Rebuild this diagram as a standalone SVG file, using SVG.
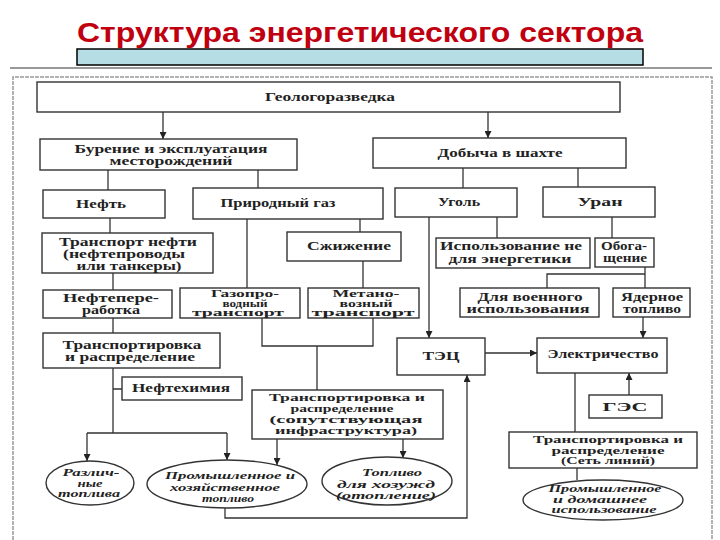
<svg xmlns="http://www.w3.org/2000/svg" width="720" height="540" viewBox="0 0 720 540">
<defs>
<style>
.b{fill:#fff;stroke:#333;stroke-width:1.4}
.e{fill:#fff;stroke:#333;stroke-width:1.4}
.t{font-family:"Liberation Serif","Times New Roman","DejaVu Serif",serif;font-size:11.5px;font-weight:bold;fill:#222;text-anchor:middle}
.s{font-size:9.5px}
.m{font-size:10px}
.i{font-family:"Liberation Serif","Times New Roman","DejaVu Serif",serif;font-size:11px;font-weight:bold;font-style:italic;fill:#222;text-anchor:middle}
.c{fill:none;stroke:#333;stroke-width:1.3}
.a{fill:none;stroke:#333;stroke-width:1.3;marker-end:url(#arr)}
</style>
<marker id="arr" viewBox="0 0 10 10" refX="10" refY="5" markerWidth="7" markerHeight="7" markerUnits="userSpaceOnUse" orient="auto">
<path d="M0,0 L10,5 L0,10 z" fill="#222"/>
</marker>
</defs>
<rect width="720" height="540" fill="#fff"/>
<g id="frame">
<line x1="10" y1="68" x2="712" y2="68" stroke="#777" stroke-width="1.5"/>
<path d="M13,540 V77 H712 V540" fill="none" stroke="#999" stroke-width="1.5" stroke-dasharray="4 1"/>
</g>
<g id="title">
<rect x="77" y="49" width="566" height="16" fill="#b7dde4" stroke="#000" stroke-width="1.5"/>
<text x="360" y="42" font-family="'Liberation Sans',Arial,sans-serif" font-size="27" font-weight="bold" fill="#c00010" text-anchor="middle" textLength="566" lengthAdjust="spacingAndGlyphs">Структура энергетического сектора</text>
</g>
<g id="connectors">
<line class="a" x1="163" y1="112" x2="163" y2="139"/>
<line class="a" x1="488" y1="112" x2="488" y2="138"/>
<line class="c" x1="108" y1="170" x2="108" y2="190"/>
<line class="c" x1="258" y1="170" x2="258" y2="188"/>
<line class="c" x1="463" y1="168" x2="463" y2="188"/>
<line class="c" x1="578" y1="168" x2="578" y2="187"/>
<line class="c" x1="110" y1="218" x2="110" y2="233"/>
<line class="c" x1="247" y1="219" x2="247" y2="288"/>
<line class="c" x1="360" y1="219" x2="360" y2="232"/>
<line class="a" x1="429" y1="217" x2="429" y2="338"/>
<line class="c" x1="497" y1="217" x2="497" y2="238"/>
<line class="c" x1="612" y1="217" x2="612" y2="238"/>
<line class="c" x1="113" y1="273" x2="113" y2="290"/>
<line class="c" x1="363" y1="261" x2="363" y2="288"/>
<path class="c" d="M547,288 V274 H645 V288 M645,274 V267"/>
<line class="a" x1="643" y1="317" x2="643" y2="338"/>
<line class="c" x1="113" y1="318" x2="113" y2="333"/>
<path class="c" d="M262,318 V346 H373 V318 M317,346 V390"/>
<line class="a" x1="485" y1="353" x2="537" y2="353"/>
<line class="a" x1="629" y1="395" x2="629" y2="373"/>
<line class="c" x1="575" y1="373" x2="575" y2="432"/>
<line class="c" x1="577" y1="468" x2="577" y2="480"/>
<path class="c" d="M113,368 V433 M113,389 H122 M87,433 H227"/>
<line class="a" x1="87" y1="433" x2="87" y2="461"/>
<line class="a" x1="227" y1="433" x2="227" y2="460"/>
<line class="a" x1="277" y1="439" x2="277" y2="465"/>
<line class="a" x1="403" y1="439" x2="403" y2="458"/>
<path class="a" d="M225,508 V518 H467 V375"/>
</g>
<g id="geo"><rect class="b" x="37" y="82" width="583" height="30"/><text class="t" x="330" y="101" textLength="130" lengthAdjust="spacingAndGlyphs">Геологоразведка</text></g>
<g id="burenie"><rect class="b" x="40" y="139" width="257" height="31"/><text class="t" x="171" y="153" textLength="193" lengthAdjust="spacingAndGlyphs">Бурение и эксплуатация</text><text class="t" x="171" y="165" textLength="123" lengthAdjust="spacingAndGlyphs">месторождений</text></g>
<g id="dobycha"><rect class="b" x="373" y="138" width="253" height="30"/><text class="t" x="500" y="157" textLength="125" lengthAdjust="spacingAndGlyphs">Добыча в шахте</text></g>
<g id="neft"><rect class="b" x="43" y="190" width="122" height="28"/><text class="t" x="101" y="208" textLength="50" lengthAdjust="spacingAndGlyphs">Нефть</text></g>
<g id="gaz"><rect class="b" x="193" y="188" width="190" height="31"/><text class="t" x="278" y="207" textLength="115" lengthAdjust="spacingAndGlyphs">Природный газ</text></g>
<g id="ugol"><rect class="b" x="395" y="188" width="122" height="29"/><text class="t" x="459" y="206" textLength="42" lengthAdjust="spacingAndGlyphs">Уголь</text></g>
<g id="uran"><rect class="b" x="543" y="187" width="112" height="30"/><text class="t" x="600" y="206" textLength="45" lengthAdjust="spacingAndGlyphs">Уран</text></g>
<g id="transp-neft"><rect class="b" x="42" y="233" width="171" height="40"/><text class="t" x="128" y="246" textLength="138" lengthAdjust="spacingAndGlyphs">Транспорт нефти</text><text class="t" x="124" y="258" textLength="122" lengthAdjust="spacingAndGlyphs">(нефтепроводы</text><text class="t" x="129" y="270" textLength="105" lengthAdjust="spacingAndGlyphs">или танкеры)</text></g>
<g id="szhizhenie"><rect class="b" x="287" y="232" width="114" height="29"/><text class="t" x="349" y="250" textLength="84" lengthAdjust="spacingAndGlyphs">Сжижение</text></g>
<g id="ispolz"><rect class="b" x="436" y="238" width="154" height="30"/><text class="t" x="511" y="250" textLength="142" lengthAdjust="spacingAndGlyphs">Использование не</text><text class="t" x="510" y="263" textLength="123" lengthAdjust="spacingAndGlyphs">для энергетики</text></g>
<g id="obogashch"><rect class="b" x="595" y="238" width="59" height="29"/><text class="t" x="624" y="250" textLength="46" lengthAdjust="spacingAndGlyphs">Обога-</text><text class="t" x="625" y="262" textLength="44" lengthAdjust="spacingAndGlyphs">щение</text></g>
<g id="neftepererab"><rect class="b" x="43" y="290" width="129" height="28"/><text class="t" x="111" y="302" textLength="96" lengthAdjust="spacingAndGlyphs">Нефтепере-</text><text class="t" x="111" y="314" textLength="58" lengthAdjust="spacingAndGlyphs">работка</text></g>
<g id="gazoprovod"><rect class="b" x="180" y="288" width="120" height="30"/><text class="t s" x="245" y="297" textLength="68" lengthAdjust="spacingAndGlyphs">Газопро-</text><text class="t s" x="245" y="306.5" textLength="45" lengthAdjust="spacingAndGlyphs">водный</text><text class="t s" x="238" y="316" textLength="92" lengthAdjust="spacingAndGlyphs">транспорт</text></g>
<g id="metanovoz"><rect class="b" x="308" y="288" width="111" height="30"/><text class="t s" x="366" y="297" textLength="67" lengthAdjust="spacingAndGlyphs">Метано-</text><text class="t s" x="366" y="306.5" textLength="53" lengthAdjust="spacingAndGlyphs">возный</text><text class="t s" x="363" y="316" textLength="103" lengthAdjust="spacingAndGlyphs">транспорт</text></g>
<g id="voennoe"><rect class="b" x="460" y="288" width="139" height="29"/><text class="t" x="530" y="301" textLength="105" lengthAdjust="spacingAndGlyphs">Для военного</text><text class="t" x="528" y="312.5" textLength="123" lengthAdjust="spacingAndGlyphs">использования</text></g>
<g id="yadernoe"><rect class="b" x="613" y="288" width="77" height="29"/><text class="t" x="652" y="301" textLength="62" lengthAdjust="spacingAndGlyphs">Ядерное</text><text class="t" x="652" y="312.5" textLength="58" lengthAdjust="spacingAndGlyphs">топливо</text></g>
<g id="transport-raspr"><rect class="b" x="43" y="333" width="177" height="35"/><text class="t" x="132" y="349" textLength="139" lengthAdjust="spacingAndGlyphs">Транспортировка</text><text class="t" x="130" y="361" textLength="130" lengthAdjust="spacingAndGlyphs">и распределение</text></g>
<g id="neftekhimiya"><rect class="b" x="122" y="377" width="120" height="23"/><text class="t" x="181" y="392" textLength="98" lengthAdjust="spacingAndGlyphs">Нефтехимия</text></g>
<g id="tec"><rect class="b" x="397" y="338" width="88" height="37"/><text class="t" x="441" y="360" textLength="37" lengthAdjust="spacingAndGlyphs">ТЭЦ</text></g>
<g id="elektr"><rect class="b" x="537" y="338" width="130" height="35"/><text class="t" x="603" y="358" textLength="111" lengthAdjust="spacingAndGlyphs">Электричество</text></g>
<g id="ges"><rect class="b" x="589" y="395" width="73" height="23"/><text class="t" x="625" y="411" textLength="45" lengthAdjust="spacingAndGlyphs">ГЭС</text></g>
<g id="soput"><rect class="b" x="252" y="390" width="191" height="49"/><text class="t m" x="347" y="401" textLength="156" lengthAdjust="spacingAndGlyphs">Транспортировка и</text><text class="t m" x="342" y="412" textLength="103" lengthAdjust="spacingAndGlyphs">распределение</text><text class="t m" x="346" y="423" textLength="153" lengthAdjust="spacingAndGlyphs">(сопутствующая</text><text class="t m" x="346" y="434" textLength="142" lengthAdjust="spacingAndGlyphs">инфраструктура)</text></g>
<g id="set"><rect class="b" x="509" y="432" width="188" height="36"/><text class="t m" x="608" y="443" textLength="150" lengthAdjust="spacingAndGlyphs">Транспортировка и</text><text class="t m" x="608" y="453.5" textLength="113" lengthAdjust="spacingAndGlyphs">распределение</text><text class="t m" x="608" y="464" textLength="94" lengthAdjust="spacingAndGlyphs">(Сеть линий)</text></g>
<g id="razlich"><ellipse class="e" cx="90" cy="483" rx="44" ry="22"/><text class="i s" x="91" y="476" textLength="57" lengthAdjust="spacingAndGlyphs">Различ-</text><text class="i s" x="90" y="486.5" textLength="25" lengthAdjust="spacingAndGlyphs">ные</text><text class="i s" x="89" y="497" textLength="62" lengthAdjust="spacingAndGlyphs">топлива</text></g>
<g id="prom-hoz"><ellipse class="e" cx="227" cy="484" rx="80" ry="24"/><text class="i" x="230" y="479" textLength="130" lengthAdjust="spacingAndGlyphs">Промышленное и</text><text class="i" x="225" y="490.5" textLength="110" lengthAdjust="spacingAndGlyphs">хозяйственное</text><text class="i" x="228" y="502" textLength="52" lengthAdjust="spacingAndGlyphs">топливо</text></g>
<g id="toplivo"><ellipse class="e" cx="387" cy="481" rx="65" ry="24"/><text class="i" x="392" y="476" textLength="60" lengthAdjust="spacingAndGlyphs">Топливо</text><text class="i" x="386" y="487.5" textLength="98" lengthAdjust="spacingAndGlyphs">для хозужд</text><text class="i" x="386" y="499" textLength="100" lengthAdjust="spacingAndGlyphs">(отопление)</text></g>
<g id="prom-dom"><ellipse class="e" cx="603" cy="500" rx="80" ry="20"/><text class="i s" x="605" y="492" textLength="113" lengthAdjust="spacingAndGlyphs">Промышленное</text><text class="i s" x="600" y="502.5" textLength="94" lengthAdjust="spacingAndGlyphs">и домашнее</text><text class="i s" x="604" y="513" textLength="105" lengthAdjust="spacingAndGlyphs">использование</text></g>
</svg>
